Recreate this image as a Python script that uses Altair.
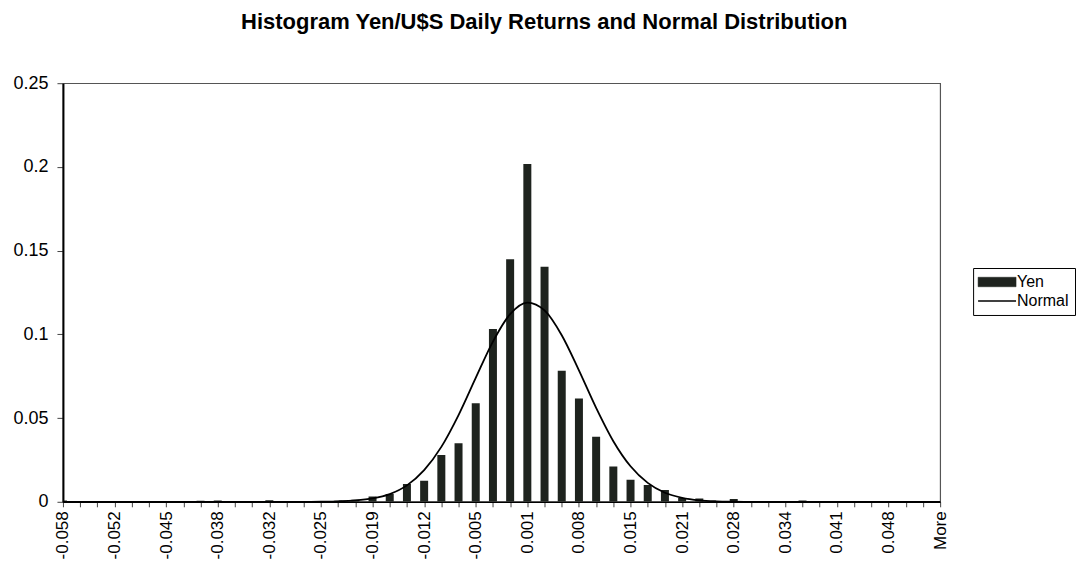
import altair as alt
import pandas as pd

categories = [
    "-0.058", "-0.056", "-0.054", "-0.052", "-0.049", "-0.047", "-0.045", "-0.043",
    "-0.041", "-0.038", "-0.036", "-0.034", "-0.032", "-0.030", "-0.027", "-0.025",
    "-0.023", "-0.021", "-0.019", "-0.016", "-0.014", "-0.012", "-0.010", "-0.007",
    "-0.005", "-0.003", "-0.001", "0.001", "0.004", "0.006", "0.008", "0.010",
    "0.012", "0.015", "0.017", "0.019", "0.021", "0.023", "0.026", "0.028",
    "0.030", "0.032", "0.034", "0.037", "0.039", "0.041", "0.043", "0.045",
    "0.048", "0.050", "0.052", "More",
]

tick_labels = [
    "-0.058", "-0.052", "-0.045", "-0.038", "-0.032", "-0.025", "-0.019", "-0.012",
    "-0.005", "0.001", "0.008", "0.015", "0.021", "0.028", "0.034", "0.041",
    "0.048", "More",
]

yen = [
    0.0008, 0, 0, 0, 0, 0, 0, 0,
    0.0006, 0.0008, 0, 0.0005, 0.0009, 0, 0, 0.0005,
    0.0006, 0.0012, 0.0032, 0.0046, 0.0106, 0.0125, 0.0279, 0.0350,
    0.0589, 0.1032, 0.1448, 0.2017, 0.1404, 0.0782, 0.0617, 0.0388,
    0.0211, 0.0131, 0.0101, 0.0070, 0.0022, 0.0020, 0.0004, 0.0017,
    0.0003, 0.0001, 0.0002, 0.0007, 0.0003, 0, 0, 0,
    0, 0.0004, 0, 0,
]

normal = [
    0, 0, 0, 0, 0, 0, 0, 0,
    0, 0, 0, 0, 0, 0, 0, 0.0001,
    0.0003, 0.0008, 0.0020, 0.0046, 0.0098, 0.0189, 0.0328, 0.0518,
    0.0740, 0.0957, 0.1121, 0.1190, 0.1143, 0.0995, 0.0785, 0.0561,
    0.0362, 0.0212, 0.0113, 0.0054, 0.0024, 0.0009, 0.0003, 0.0001,
    0, 0, 0, 0, 0, 0, 0, 0,
    0, 0, 0, 0,
]

series_names = ["Yen", "Normal"]
series_colors = ["#1e231e", "#000000"]

df = pd.DataFrame({
    "bin": categories + categories,
    "series": ["Yen"] * len(categories) + ["Normal"] * len(categories),
    "freq": yen + normal,
})

FONT = "Liberation Sans"
label_list = ",".join("'" + t + "'" for t in tick_labels)
label_expr = f"indexof([{label_list}], datum.label) >= 0 ? datum.label : ''"

x_enc = alt.X(
    "bin:N",
    sort=categories,
    scale=alt.Scale(type="point", padding=0),
    axis=alt.Axis(
        title=None, labelAngle=-90, labelExpr=label_expr, labelFontSize=17,
        labelFont=FONT, labelColor="#000", tickSize=5, tickColor="#444",
        domainColor="#000", domainWidth=1.5, labelPadding=4, labelBound=False,
    ),
)
y_enc = alt.Y(
    "freq:Q",
    scale=alt.Scale(domain=[0, 0.25], nice=False),
    axis=alt.Axis(
        title=None, values=[0, 0.05, 0.1, 0.15, 0.2, 0.25], format="~g",
        grid=False, tickSize=6, tickColor="#444", labelPadding=9,
        labelFontSize=18, labelFont=FONT, labelColor="#000",
        domainColor="#000", domainWidth=2,
    ),
)
color_enc = alt.Color(
    "series:N",
    scale=alt.Scale(domain=series_names, range=series_colors),
    legend=alt.Legend(
        title=None, orient="none", legendX=911, legendY=185,
        labelFontSize=16, labelFont=FONT, labelColor="#000",
        symbolType={"expr": "datum.value === 'Yen' ? 'M-2,-0.5H2V0.5H-2Z' : 'M-2,0H2'"},
        symbolSize=361,
        symbolStrokeColor="#000",
        symbolStrokeWidth={"expr": "datum.value === 'Yen' ? 0.5 : 1.6"},
        symbolOffset=10,
        labelOffset=12,
        strokeColor="#000",
        padding=6,
        rowPadding=3,
    ),
)

base = alt.Chart(df).encode(x=x_enc, y=y_enc, color=color_enc)

bars = base.transform_filter(alt.datum.series == "Yen").mark_bar(size=8, clip=True)
line = base.transform_filter(alt.datum.series == "Normal").mark_line(
    strokeWidth=1.8, interpolate="monotone"
)

chart = alt.layer(bars, line).properties(
    width=878,
    height=419,
    padding={"left": 4, "top": 3, "right": 0, "bottom": 0},
    title=alt.TitleParams(
        "Histogram Yen/U$S Daily Returns and Normal Distribution",
        fontSize=22, font=FONT, fontWeight="bold", anchor="middle",
        frame="bounds", offset=40, color="#000",
    ),
).configure_view(stroke="#555", strokeWidth=1.2)

chart.save("out.html", embed_options={"renderer": "svg", "actions": False})
